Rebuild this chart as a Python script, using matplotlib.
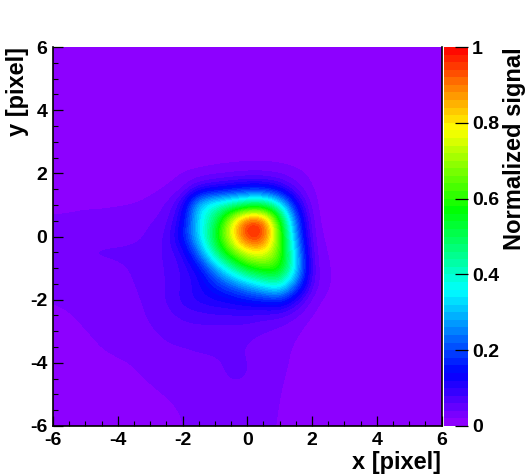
import numpy as np
import matplotlib
matplotlib.use("Agg")
import matplotlib.pyplot as plt
from matplotlib.colors import LinearSegmentedColormap, ListedColormap
from matplotlib.ticker import MultipleLocator

plt.rcParams['font.family'] = ['Liberation Sans', 'DejaVu Sans']
plt.rcParams['axes.unicode_minus'] = False

bg = 1
# signal in percent of maximum; rows y=6 down to y=-6, columns x=-6..6, step 0.5
signal_pct = [
 [bg]*25,  # y=6
 [bg]*25,  # y=5.5
 [bg]*25,  # y=5
 [bg]*25,  # y=4.5
 [bg]*25,  # y=4
 [bg]*25,  # y=3.5
 [bg]*25,  # y=3
 [bg]*9 + [1,1.2,1.3,1.4,1.4,1.3,1.1,1] + [bg]*8,  # y=2.5
 [1,1,1,1,1,1,1.2,1.5,1.9,2.2,2.8,3.2,3.6,3.6,3.2,2.4,1.5,1,1,.8,.8,.8,.8,.8,.8],  # y=2
 [1,1,1,1,1,1.2,1.5,1.9,3,9,11,13,15,15,11,5,1.7,1,.8,.8,.8,.8,.8,.8,.8],  # y=1.5
 [1.7,1.7,1.8,1.8,1.9,2,2.5,4,9,33,40,44,50,52,38,13,2,1,.8,.8,.8,.8,.8,.8,.8],  # y=1
 [2.2,2.3,2.5,2.6,2.8,3.2,3.9,4.8,12,34,48,76,98,96,60,21,2.5,1,.8,.8,.8,.8,.8,.8,.8],  # y=.5
 [2.5,2.7,3,3.2,3.4,3.6,4.2,6,15,33,54,78,100,98,64,25,3,1.5,1,.8,.8,.8,.8,.8,.8],  # y=0
 [2.6,3.4,4.3,4.4,4.4,4.4,4.8,6.5,9,24,46,65,78,80,65,31,3.5,1.8,1,.8,.8,.8,.8,.8,.8],  # y=-.5
 [2.5,2.7,3,3.4,3.7,4.2,4.6,6.2,8,13,27,42,56,62,61,34,4.5,2,1,.8,.8,.8,.8,.8,.8],  # y=-1
 [2.3,2.5,2.8,3.1,3.4,4,4.5,6.1,8,11,17,23,30,37,43,24,5,2,1,.8,.8,.8,.8,.8,.8],  # y=-1.5
 [2.1,2.3,2.7,3,3.3,3.8,4.3,6.1,9,11,12,13,15,16,18,10,2.5,1.5,1,.8,.8,.8,.8,.8,.8],  # y=-2
 [1.7,1.9,2.2,2.6,3,3.5,4.2,5.2,6.5,7,7.5,7.5,7.5,6.5,6,3.8,1.8,1,.8,.8,.8,.8,.8,.8,.8],  # y=-2.5
 [1.4,1.7,2,2.3,2.7,3.2,3.8,4.4,5,5.2,5,5,4.7,4,3.3,2.3,1,.8,.8,.8,.8,.8,.8,.8,.8],  # y=-3
 [1,1.3,1.6,2.1,2.4,2.8,3.3,3.8,3.9,4.2,4.4,4.4,3.8,3,2.5,1.8,1,.8,.8,.8,.8,.8,.8,.8,.8],  # y=-3.5
 [1,1,1.2,1.5,1.8,2.1,2.9,3.3,3.5,3.6,3.7,4.4,4.2,3,2.4,1.7,1,.8,.8,.8,.8,.8,.8,.8,.8],  # y=-4
 [1,1,1,1,1.2,1.6,2.2,2.8,3.1,3.2,3.4,4.3,4.1,3,2.2,1.5,1,.8,.8,.8,.8,.8,.8,.8,.8],  # y=-4.5
 [1,1,1,1,1,1.2,1.6,2.1,2.7,2.8,3,3.3,3,2.6,2.1,1.3,1,.8,.8,.8,.8,.8,.8,.8,.8],  # y=-5
 [1,1,1,1,1,1,1.2,1.5,2.2,2.7,2.9,3,2.9,2.5,2,1.2,1,.8,.8,.8,.8,.8,.8,.8,.8],  # y=-5.5
 [1,1,1,1,1,1,1,1.3,2,2.5,2.7,2.8,2.7,2.4,1.9,1.1,1,.8,.8,.8,.8,.8,.8,.8,.8],  # y=-6
]
Z = np.array(signal_pct, dtype=float) / 100.0

x_ticks = [-6, -4, -2, 0, 2, 4, 6]
y_ticks = [-6, -4, -2, 0, 2, 4, 6]
z_ticks = [0, 0.2, 0.4, 0.6, 0.8, 1]
z_labels = ['0', '0.2', '0.4', '0.6', '0.8', '1']
palette_stops = ['#9600ff', '#0000ff', '#00ffff', '#00ff00', '#ffff00', '#ff0000']
palette_pos = [0, 0.14, 0.357, 0.571, 0.786, 1]
n_bands = 50

W, H = 526, 474
fig = plt.figure(figsize=(W / 100, H / 100), dpi=100)
L, R, T, B = 53, 441.5, 47, 426
ax = fig.add_axes([L / W, 1 - B / H, (R - L) / W, (B - T) / H])
base = LinearSegmentedColormap.from_list('root', list(zip(palette_pos, palette_stops)))
cmap = ListedColormap(base((np.arange(n_bands) + 0.5) / n_bands))
im = ax.imshow(Z, extent=[-6.25, 6.25, -6.25, 6.25], origin='upper', cmap=cmap, vmin=0, vmax=1,
               interpolation='bicubic', interpolation_stage='data', aspect='auto')
ax.set_xlim(-6, 6)
ax.set_ylim(-6, 6)
ax.set_xticks(x_ticks)
ax.set_yticks(y_ticks)
ax.xaxis.set_minor_locator(MultipleLocator(0.5))
ax.yaxis.set_minor_locator(MultipleLocator(0.5))
ax.tick_params(axis='x', which='major', direction='in', length=7.2, width=0.9, labelsize=14, pad=4.5)
ax.tick_params(axis='y', which='major', direction='in', length=7.2, width=0.9, labelsize=14, pad=4)
ax.tick_params(which='minor', direction='in', length=3.6, width=0.8)
for lab in ax.get_xticklabels() + ax.get_yticklabels():
    lab.set_fontweight('bold')
ax.spines['top'].set_visible(False)
for s in ['left', 'bottom', 'right']:
    ax.spines[s].set_linewidth(1.2)

cax = fig.add_axes([444 / W, 1 - B / H, 24 / W, (B - T) / H])
cb = fig.colorbar(im, cax=cax)
cb.set_ticks(z_ticks)
cb.set_ticklabels(z_labels)
cb.outline.set_visible(False)
cax.tick_params(direction='in', length=9.5, width=0.9, labelsize=14, pad=3, right=True)
for lab in cax.get_yticklabels():
    lab.set_fontweight('bold')

fig.text(441 / W, 1 - 462 / H, 'x [pixel]', ha='right', va='center', fontsize=17, fontweight='bold')
fig.text(18 / W, 1 - 47 / H, 'y [pixel]', ha='center', va='top', rotation=90, fontsize=17, fontweight='bold')
fig.text(514 / W, 1 - 47 / H, 'Normalized signal', ha='center', va='top', rotation=90, fontsize=17, fontweight='bold')
fig.savefig('out.png', dpi=100)
